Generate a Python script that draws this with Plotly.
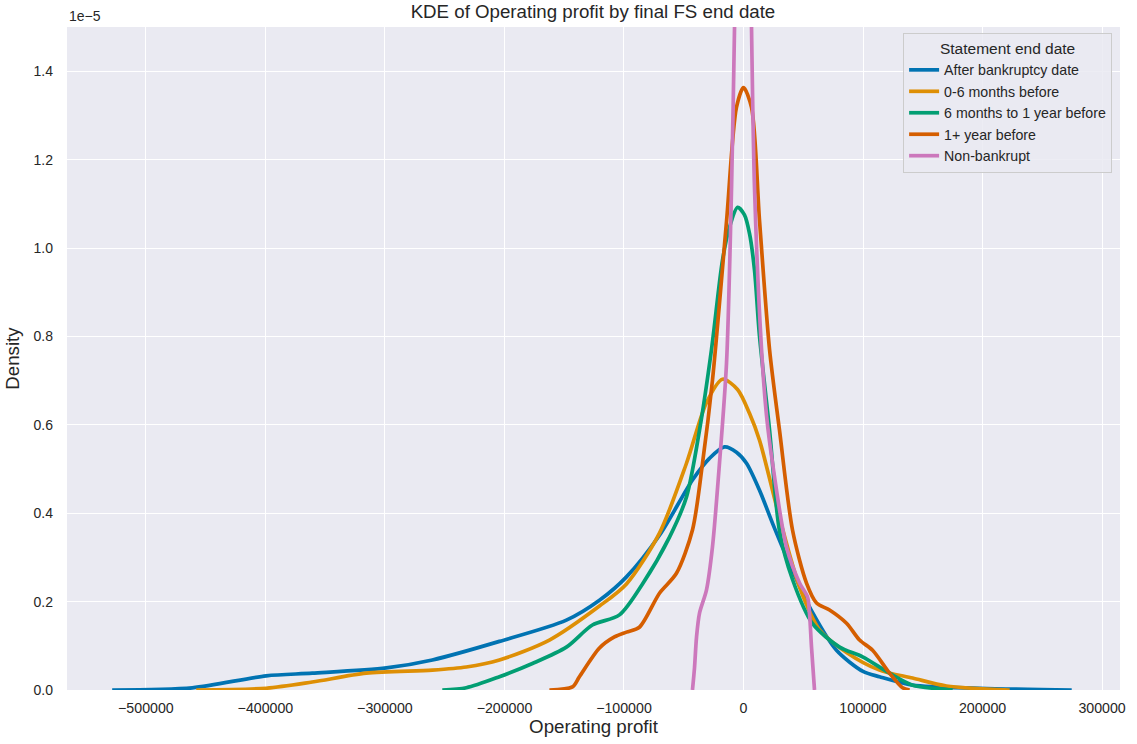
import plotly.graph_objects as go

# Operating profit (x) and KDE density in units of 1e-5 (y)
after_x = [-528200, -461200, -399300, -360800, -298800, -260300, -204200, -148200, -120500,
           -97900, -70300, -42700, -28500, -15900, -5900, 2500, 13400, 24300, 41000, 57800,
           77800, 100000, 113800, 141500, 197600, 274600]
after_y = [0.0, 0.005, 0.032, 0.038, 0.05, 0.068, 0.11, 0.158, 0.203,
           0.256, 0.35, 0.475, 0.524, 0.55, 0.538, 0.513, 0.452, 0.377, 0.27, 0.175,
           0.09, 0.042, 0.03, 0.011, 0.004, 0.0]

m06_x = [-457900, -399300, -360800, -315600, -260300, -231900, -204200, -162400, -120500,
         -97900, -70300, -47700, -31000, -17600, -5000, 5000, 13400, 30100,
         46900, 63600, 86200, 113800, 141500, 169900, 222700]
m06_y = [0.0, 0.004, 0.018, 0.038, 0.045, 0.052, 0.068, 0.113, 0.19,
         0.24, 0.355, 0.513, 0.65, 0.703, 0.68, 0.626, 0.565, 0.39,
         0.233, 0.136, 0.085, 0.045, 0.027, 0.009, 0.0]

m612_x = [-252000, -231900, -204200, -176600, -148200, -126400, -103800, -84500, -61900,
          -47700, -36800, -26800, -17600, -11700, -5000, 800, 5000, 9200, 13400, 21800,
          30100, 41000, 57800, 80400, 99600, 122200, 141500, 161600, 175000]
m612_y = [0.0, 0.005, 0.03, 0.06, 0.097, 0.147, 0.17, 0.24, 0.346,
          0.437, 0.588, 0.77, 0.972, 1.047, 1.092, 1.075, 1.033, 0.95, 0.80, 0.588,
          0.36, 0.25, 0.15, 0.097, 0.075, 0.038, 0.011, 0.003, 0.0]

y1_x = [-162400, -143100, -137300, -120500, -108000, -97900, -87100, -70300, -56100,
        -42700, -34300, -26000, -14200, -5900, 0, 6700, 13400, 21800, 30100, 41000,
        52700, 61100, 72000, 86200, 97100, 108000, 122200, 133100, 139000]
y1_y = [0.0, 0.007, 0.03, 0.095, 0.12, 0.131, 0.142, 0.219, 0.264,
        0.362, 0.513, 0.70, 1.06, 1.318, 1.363, 1.318, 1.062, 0.77, 0.588, 0.362,
        0.242, 0.197, 0.181, 0.151, 0.113, 0.09, 0.038, 0.005, 0.0]

nb_x = [-42700, -41000, -39300, -36800, -31000, -26000, -20100, -14200, -10000, -7500,
        -4200, 0, 4200, 6700, 9200, 15100, 19300, 24300, 36000, 46900, 53600, 55300,
        56900, 59400]
nb_y = [0.0, 0.05, 0.12, 0.174, 0.226, 0.323, 0.513, 0.74, 1.137, 1.5,
        2.0, 2.4, 2.0, 1.5, 1.137, 0.77, 0.62, 0.513, 0.323, 0.242, 0.21, 0.17,
        0.097, 0.0]

series_names = ["After bankruptcy date", "0-6 months before", "6 months to 1 year before",
                "1+ year before", "Non-bankrupt"]
series_x = [after_x, m06_x, m612_x, y1_x, nb_x]
series_y = [after_y, m06_y, m612_y, y1_y, nb_y]
colors = ["#0173b2", "#de8f05", "#029e73", "#d55e00", "#cc78bc"]

x_ticks = [-500000, -400000, -300000, -200000, -100000, 0, 100000, 200000, 300000]
x_ticktext = ["\u2212500000", "\u2212400000", "\u2212300000", "\u2212200000", "\u2212100000",
              "0", "100000", "200000", "300000"]
y_ticks = [0.0, 0.2, 0.4, 0.6, 0.8, 1.0, 1.2, 1.4]

fig = go.Figure()
for name, xs, ys, c in zip(series_names, series_x, series_y, colors):
    fig.add_trace(go.Scatter(x=xs, y=ys, name=name, mode="lines",
                             line=dict(color=c, width=3.7, shape="spline", smoothing=0.8)))

font_family = "Liberation Sans, Arial, sans-serif"
fig.update_layout(
    width=1137, height=744,
    margin=dict(l=67, r=17, t=27, b=54),
    paper_bgcolor="white",
    plot_bgcolor="#eaeaf2",
    font=dict(family=font_family, color="#262626", size=14),
    title=dict(text="KDE of Operating profit by final FS end date", x=0.5215, xanchor="center",
               y=0.984, yanchor="middle", font=dict(size=18.7, color="#262626")),
    xaxis=dict(range=[-566000, 315000], tickvals=x_ticks, ticktext=x_ticktext,
               showgrid=True, gridcolor="white", gridwidth=1.3, zeroline=False,
               showline=False, ticks="", ticklabelstandoff=8,
               tickfont=dict(size=14.2),
               title=dict(text="Operating profit", font=dict(size=18.7), standoff=4)),
    yaxis=dict(range=[0, 1.5], tickvals=y_ticks, tickformat=".1f",
               showgrid=True, gridcolor="white", gridwidth=1.3, zeroline=False,
               showline=False, ticks="", ticklabelstandoff=13,
               tickfont=dict(size=14),
               title=dict(text="Density", font=dict(size=18.7), standoff=8)),
    legend=dict(x=0.9925, xanchor="right", y=0.991, yanchor="top",
                bgcolor="rgba(234,234,242,0.85)", bordercolor="#cccccc", borderwidth=1,
                font=dict(size=14.2, color="#262626"),
                title=dict(text="Statement end date", font=dict(size=15.5), side="top center"),
                itemwidth=30, tracegroupgap=0),
    showlegend=True,
)
fig.add_annotation(text="1e\u22125", xref="paper", yref="paper", x=0, y=1.0,
                   xanchor="left", yanchor="bottom", showarrow=False,
                   font=dict(size=14, color="#262626"), yshift=1)

fig.write_html("out.html", config={"displayModeBar": False},
               post_script="document.body.style.margin='0';")
